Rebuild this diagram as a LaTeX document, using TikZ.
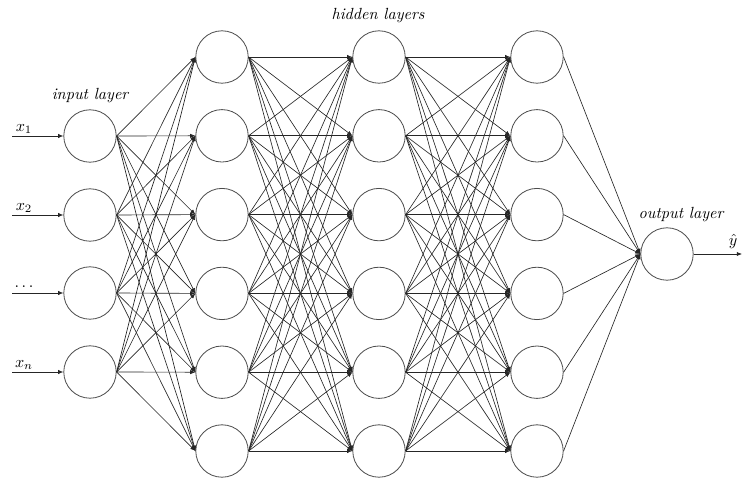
\documentclass[tikz,border=0pt]{standalone}
\usetikzlibrary{arrows.meta}
\tikzset{
 nn neuron/.style={circle,draw=black!70,line width=.5pt,fill=white,
   minimum size=32.5pt,inner sep=0pt},
 nn link/.style={-{Latex[length=3.2pt,width=2.6pt]},line width=.4pt,draw=black!85},
 nn label/.style={font=\itshape},
}
\begin{document}
\begin{tikzpicture}[x=0.62pt,y=-0.62pt]
\useasboundingbox (0,0) rectangle (743,479);
% input layer
\foreach \i/\y in {1/136,2/215,3/293,4/372}{
  \node[nn neuron] (in\i) at (90,\y) {};
  \coordinate (x\i) at (12,\y);
}
% hidden layers
\foreach \l/\x in {1/222,2/379,3/537}
  \foreach \i in {1,...,6}
    \node[nn neuron] (h\l-\i) at (\x,{57+78.8*(\i-1)}) {};
% output layer
\node[nn neuron] (out) at (667,254) {};
\coordinate (yhat) at (742,254);
% labels
\node[nn label] at (90,96) {input layer};
\node[nn label] at (378,16) {hidden layers};
\node[nn label] at (681,215) {output layer};
\node at (24,129) {$x_1$};
\node at (24,208) {$x_2$};
\node at (24,287) {$\dots$};
\node at (24,365) {$x_n$};
\node at (733,241) {$\hat{y}$};
% connections
\foreach \i in {1,...,4}{
  \draw[nn link] (x\i) -- (in\i.west);
  \foreach \j in {1,...,6}
    \draw[nn link] (in\i.east) -- (h1-\j.west);
}
\foreach \l/\m in {1/2,2/3}
  \foreach \i in {1,...,6}
    \foreach \j in {1,...,6}
      \draw[nn link] (h\l-\i.east) -- (h\m-\j.west);
\foreach \i in {1,...,6}
  \draw[nn link] (h3-\i.east) -- (out.west);
\draw[nn link] (out.east) -- (yhat);
\end{tikzpicture}
\end{document}
